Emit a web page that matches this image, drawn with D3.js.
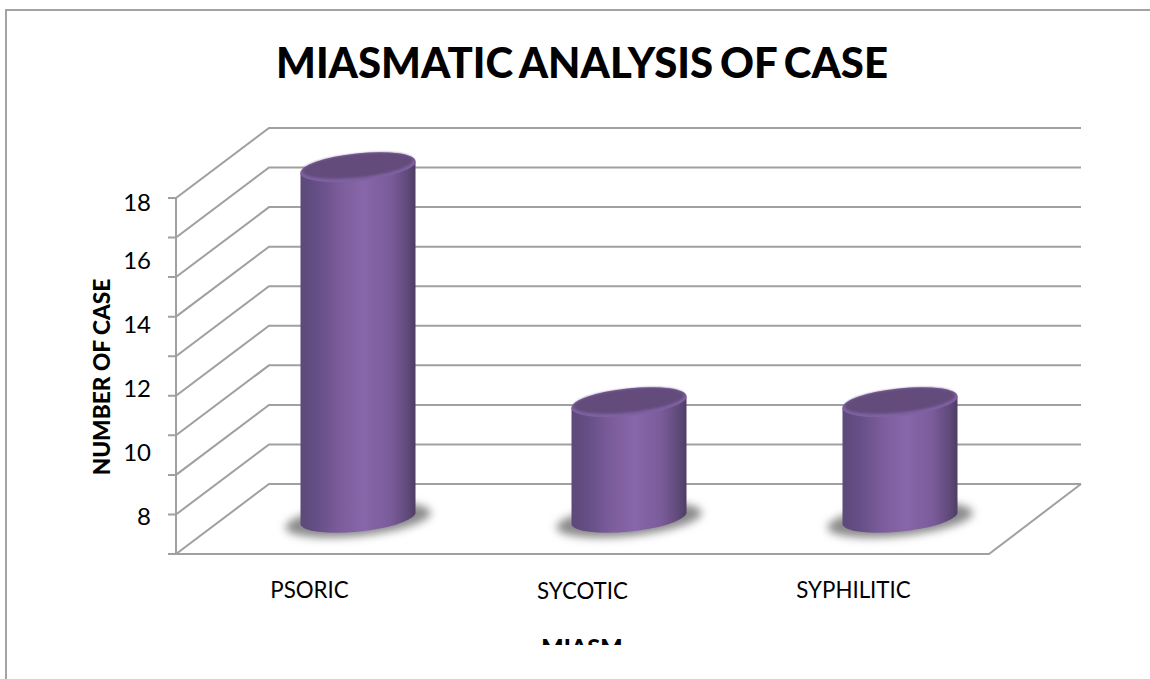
<!DOCTYPE html>
<html>
<head>
<meta charset="utf-8">
<script src="https://cdn.jsdelivr.net/npm/d3@7"></script>
<style>
  html, body { margin: 0; padding: 0; background: #fff; }
  svg { display: block; font-family: Lato, sans-serif; }
</style>
</head>
<body>
<div id="svg-area"></div>
<script>
var categories = ["PSORIC", "SYCOTIC", "SYPHILITIC"];
var caseValues = [18.2, 10.65, 10.65];
var tickValues = [8, 10, 12, 14, 16, 18];
var gridSteps = [0, 1, 2, 3, 4, 5, 6, 7, 8, 9];

var svgWidth = 1150;
var svgHeight = 679;

var gridColor = "#a0a0a0";

// the box has a front plane and a back wall shifted by depth
var front = { left: 176, right: 989, bottom: 554, top: 198 };
var depth = { x: 93, y: -70 };

var svg = d3.select("#svg-area").append("svg")
  .attr("width", svgWidth)
  .attr("height", svgHeight);

var defs = svg.append("defs");

var sideGradient = defs.append("linearGradient").attr("id", "side");
[[0, "#5c4879"], [0.15, "#664f87"], [0.35, "#7c5d9c"], [0.55, "#8866aa"], [0.78, "#7b5c9a"], [0.93, "#5f4a7a"], [1, "#4e3d64"]]
  .forEach(function(s) {
    sideGradient.append("stop").attr("offset", s[0]).attr("stop-color", s[1]);
  });

defs.append("filter").attr("id", "soft")
  .attr("x", "-30%").attr("y", "-80%").attr("width", "160%").attr("height", "260%")
  .append("feGaussianBlur").attr("stdDeviation", 4);

defs.append("filter").attr("id", "rim")
  .attr("x", "-10%").attr("y", "-30%").attr("width", "120%").attr("height", "160%")
  .append("feGaussianBlur").attr("stdDeviation", 1.3);

defs.append("clipPath").attr("id", "chart-clip")
  .append("rect").attr("width", svgWidth).attr("height", 645);

// frame, only the top and left edges are in the picture
svg.append("path")
  .attr("d", "M6,679V10H1150")
  .attr("fill", "none")
  .attr("stroke", "#a3a3a3")
  .attr("stroke-width", 2);

svg.append("text")
  .attr("x", 582)
  .attr("y", 78)
  .attr("text-anchor", "middle")
  .attr("font-size", 42)
  .attr("font-weight", 900)
  .attr("word-spacing", -3)
  .attr("fill", "#000")
  .attr("textLength", 612)
  .attr("lengthAdjust", "spacingAndGlyphs")
  .text("MIASMATIC ANALYSIS OF CASE");

// scales
var gridScale = d3.scaleLinear()
  .domain([0, 9])
  .range([front.bottom, front.top]);

// the top of the value axis is a bit tighter than the rest
var yScale = d3.scaleLinear()
  .domain([7, 8, 16, 18])
  .range([549, 517, 261, 203]);

var xScale = d3.scaleBand()
  .domain(categories)
  .range([front.left, front.right]);

// grid
var grid = svg.append("g")
  .attr("fill", "none")
  .attr("stroke", gridColor)
  .attr("stroke-width", 2);

grid.selectAll("path.level")
  .data(gridSteps)
  .enter()
  .append("path")
  .attr("class", "level")
  .attr("d", function(d) {
    var y = gridScale(d);
    return "M" + (front.left - 8) + "," + y + "H" + front.left +
      "L" + (front.left + depth.x) + "," + (y + depth.y) +
      "H" + (front.right + depth.x - 1);
  });

grid.append("path")
  .attr("d", "M" + front.left + "," + front.top + "V" + front.bottom + "H" + front.right +
    "L" + (front.right + depth.x - 1) + "," + (front.bottom + depth.y));

// value labels
var yAxis = d3.axisLeft(yScale)
  .tickValues(tickValues)
  .tickSize(0)
  .tickPadding(0);

var yAxisGroup = svg.append("g")
  .attr("transform", "translate(151,0)")
  .call(yAxis);

yAxisGroup.select(".domain").remove();
yAxisGroup.selectAll("text")
  .attr("font-family", "Lato, sans-serif")
  .attr("font-size", 24)
  .attr("fill", "#000");

// cylinders
var barHalf = 57.5;
var tilt = 5.5;
var ry = 13.8;
var rx = 58;
var rot = -6;
var floorShift = 30;

var bars = svg.selectAll("g.bar")
  .data(categories)
  .enter()
  .append("g")
  .attr("class", "bar")
  .attr("transform", function(d) {
    return "translate(" + (xScale(d) + xScale.bandwidth() / 2 + depth.x / 2) + ",0)";
  });

var baseY = yScale(7) - floorShift;

bars.append("ellipse")
  .attr("cx", 0)
  .attr("cy", baseY + 1)
  .attr("rx", 73)
  .attr("ry", 16)
  .attr("transform", "rotate(" + rot + " 0 " + baseY + ")")
  .attr("fill", "#8a8a8a")
  .attr("filter", "url(#soft)");

bars.append("path")
  .attr("fill", "url(#side)")
  .attr("d", function(d, i) {
    var topY = yScale(caseValues[i]) - floorShift;
    return "M" + (-barHalf) + "," + (topY + tilt) +
      "V" + (baseY + tilt) +
      "A" + rx + "," + ry + " " + rot + " 0 0 " + barHalf + "," + (baseY - tilt) +
      "V" + (topY - tilt) + "Z";
  });

bars.append("ellipse")
  .attr("cx", 0)
  .attr("cy", function(d, i) { return yScale(caseValues[i]) - floorShift; })
  .attr("rx", rx)
  .attr("ry", ry)
  .attr("transform", function(d, i) {
    return "rotate(" + rot + " 0 " + (yScale(caseValues[i]) - floorShift) + ")";
  })
  .attr("fill", "#7f61a2");

bars.append("ellipse")
  .attr("cx", 0)
  .attr("cy", function(d, i) { return yScale(caseValues[i]) - floorShift - 1.5; })
  .attr("rx", rx - 2.5)
  .attr("ry", ry - 2)
  .attr("transform", function(d, i) {
    return "rotate(" + rot + " 0 " + (yScale(caseValues[i]) - floorShift) + ")";
  })
  .attr("fill", "#634c7b")
  .attr("filter", "url(#rim)");

// category labels sit on the band centres
var labelShift = [-2, 0, 0];
var labelDrop = [0, 1, 0];

svg.selectAll("text.cat")
  .data(categories)
  .enter()
  .append("text")
  .attr("class", "cat")
  .attr("x", function(d, i) { return xScale(d) + xScale.bandwidth() / 2 + labelShift[i]; })
  .attr("y", function(d, i) { return 598 + labelDrop[i]; })
  .attr("text-anchor", "middle")
  .attr("font-size", 22.3)
  .attr("fill", "#000")
  .text(function(d) { return d; });

// axis titles
svg.append("text")
  .attr("transform", "translate(110,377) rotate(-90)")
  .attr("text-anchor", "middle")
  .attr("font-size", 22.7)
  .attr("font-weight", 900)
  .attr("fill", "#000")
  .text("NUMBER OF CASE");

// the x title is cut off at the bottom of the chart image
svg.append("g")
  .attr("clip-path", "url(#chart-clip)")
  .append("text")
  .attr("x", 582)
  .attr("y", 656)
  .attr("text-anchor", "middle")
  .attr("font-size", 23.5)
  .attr("font-weight", 900)
  .attr("fill", "#000")
  .text("MIASM");
</script>
</body>
</html>
